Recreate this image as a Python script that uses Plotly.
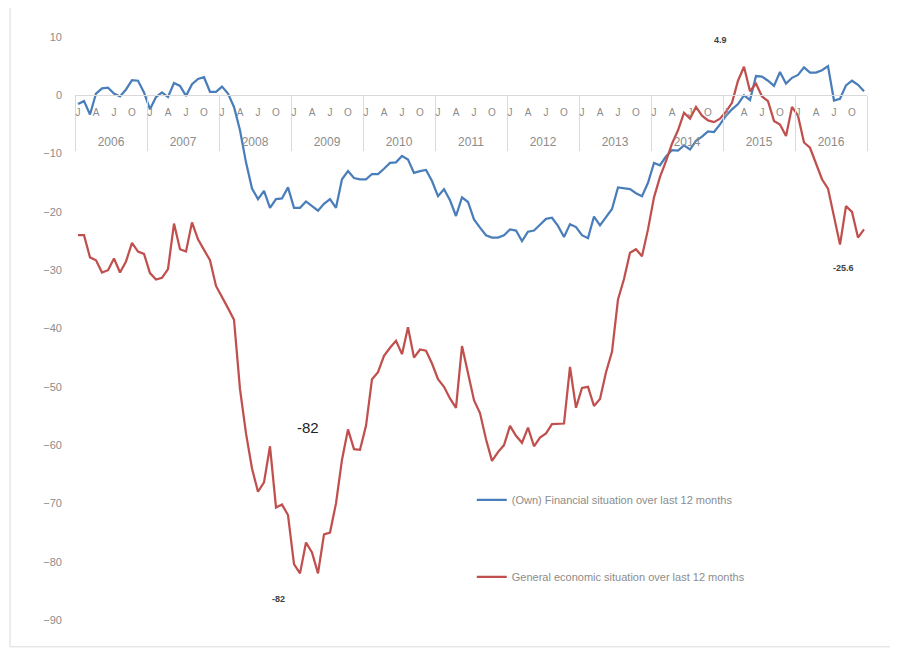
import plotly.graph_objects as go

# monthly balances, Jan 2006 .. Dec 2016
years = [str(y) for y in range(2006, 2017)]
month_letters = ["J", "A", "J", "O"]

own_financial = [
    -1.5, -1, -3.3, 0.3, 1.2, 1.3, 0.3, -0.2, 1, 2.6, 2.5, 0.5,
    -2.4, -0.3, 0.5, -0.3, 2.1, 1.6, -0.1, 1.9, 2.8, 3.1, 0.6, 0.6,
    1.5, 0.3, -2, -6, -11.5, -16, -17.8, -16.4, -19.3, -17.8, -17.7, -15.8,
    -19.3, -19.3, -18.2, -19, -19.8, -18.6, -17.8, -19.3, -14.4, -13, -14.2, -14.4,
    -14.4, -13.5, -13.5, -12.6, -11.6, -11.5, -10.4, -11, -13.3, -13, -12.8, -14.7,
    -17.3, -16.1, -18, -20.7, -17.5, -18.3, -21.3, -22.7, -24, -24.4, -24.4, -24,
    -23, -23.2, -25, -23.4, -23.2, -22.2, -21.2, -21, -22.4, -24.3, -22.1, -22.6,
    -24, -24.5, -20.8, -22.3, -21, -19.5, -15.8, -16, -16.1, -16.8, -17.3, -15,
    -11.6, -12, -10.5, -9.4, -9.5, -8.6, -9.3, -7.8, -7.1, -6.2, -6.3, -5,
    -3.5, -2.4, -1.5, 0, -0.8, 3.3, 3.2, 2.5, 1.6, 4, 2, 3,
    3.5, 4.8, 3.9, 3.9, 4.3, 5, -0.9, -0.6, 1.7, 2.5, 1.8, 0.7,
]

general_economic = [
    -24, -24, -27.8, -28.3, -30.4, -30, -28, -30.4, -28.5, -25.3, -26.8, -27.2,
    -30.5, -31.6, -31.3, -29.8, -22, -26.4, -26.8, -21.8, -24.7, -26.5, -28.3, -32.7,
    -34.5, -36.5, -38.5, -50.4, -58, -64, -68, -66.4, -60.2, -70.7, -70.2, -72,
    -80.4, -82, -76.7, -78.4, -82, -75.3, -75, -70, -62.5, -57.3, -60.7, -60.8,
    -56.7, -48.7, -47.5, -44.7, -43.3, -42.1, -44.4, -39.8, -45, -43.6, -43.8, -46,
    -48.7, -50, -52, -53.6, -43, -47.5, -52.3, -54.5, -59, -62.7, -61.2, -60,
    -56.7, -58.4, -59.6, -57, -60.2, -58.7, -58, -56.4, -56.4, -56.3, -46.6, -53.6,
    -50.2, -50, -53.3, -52.1, -47.5, -44, -35, -31.5, -27, -26.4, -27.6, -23,
    -17.5, -14, -11.3, -8.3, -6, -3, -4, -2, -3.5, -4.3, -4.6, -4,
    -2.8, -1.3, 2.5, 4.9, 0.7, 2, -0.2, -1, -4.4, -5, -7, -2,
    -3.5, -8.1, -9, -11.8, -14.4, -16, -21, -25.6, -19, -20, -24.4, -23,
]

months = list(range(len(own_financial)))
month_ticks = [m for m in months if m % 3 == 0]
month_text = [month_letters[(m % 12) // 3] for m in month_ticks]
year_mid = [12 * k + 5.5 for k in range(len(years))]
year_edges = [12 * k - 0.5 for k in range(len(years) + 1)]

FONT = "Liberation Sans"
GREY = "#8c8c8c"
xrange = [-0.5, len(months) - 0.5]

fig = go.Figure()
fig.add_trace(go.Scatter(x=months, y=own_financial, mode="lines", name="(Own) Financial situation over last 12 months",
                         line=dict(color="#4a7ebb", width=2.25), legend="legend"))
fig.add_trace(go.Scatter(x=months, y=general_economic, mode="lines", name="General economic situation over last 12 months",
                         line=dict(color="#c0504d", width=2.25), legend="legend2"))
# carrier for the year-label axis
fig.add_trace(go.Scatter(x=[0, len(months) - 1], y=[-90, -90], xaxis="x2", mode="markers",
                         marker=dict(opacity=0), showlegend=False, hoverinfo="skip"))

# page body adds 8px, so the figure is 8px smaller each way
fig.update_layout(
    width=890, height=643,
    margin=dict(l=67, r=31, t=29, b=31),
    paper_bgcolor="white", plot_bgcolor="white",
    font=dict(family=FONT, color=GREY),
    xaxis=dict(range=xrange, anchor="free", position=0.9, showline=True, linecolor="#d9d9d9", linewidth=1,
               showgrid=False, zeroline=False, tickmode="array", tickvals=month_ticks, ticktext=month_text,
               ticks="", tickangle=0, ticklabelstandoff=8, tickfont=dict(size=10, color=GREY),
               minor=dict(tickmode="array", tickvals=year_edges, ticks="outside", ticklen=55,
                          tickcolor="#d9d9d9", tickwidth=1)),
    xaxis2=dict(range=xrange, overlaying="x", anchor="free", position=0.9, side="bottom", showline=False,
                showgrid=False, zeroline=False, tickmode="array", tickvals=year_mid, ticktext=years,
                ticks="", tickangle=0, ticklabelstandoff=38, tickfont=dict(size=12, color=GREY)),
    yaxis=dict(range=[-90, 10], tickmode="array", tickvals=list(range(-90, 11, 10)), showgrid=False,
               zeroline=False, showline=False, ticklabelstandoff=12, tickfont=dict(size=11, color=GREY)),
    legend=dict(x=0.501, y=0.206, xanchor="left", yanchor="middle", bgcolor="rgba(0,0,0,0)",
                font=dict(size=11, color=GREY)),
    legend2=dict(x=0.501, y=0.074, xanchor="left", yanchor="middle", bgcolor="rgba(0,0,0,0)",
                 font=dict(size=11, color=GREY)),
    showlegend=True,
)

# data labels
lbl = dict(size=9, color="#404040", family=FONT)
fig.add_annotation(x=111, y=4.9, text="<b>4.9</b>", showarrow=False, xshift=-24, yshift=27, font=lbl)
fig.add_annotation(x=37, y=-82, text="<b>-82</b>", showarrow=False, xshift=-22, yshift=-26, font=lbl)
fig.add_annotation(x=127, y=-25.6, text="<b>-25.6</b>", showarrow=False, xshift=3, yshift=-23, font=lbl)
fig.add_annotation(x=38.3, y=-57, text="-82", showarrow=False, font=dict(size=15, color="#222222", family=FONT))

# chart frame
fig.add_shape(type="rect", xref="paper", yref="paper", x0=-0.082, x1=1.031, y0=-0.046, y1=1.055,
              line=dict(color="#d9d9d9", width=1), layer="below")

fig.write_html("out.html")
